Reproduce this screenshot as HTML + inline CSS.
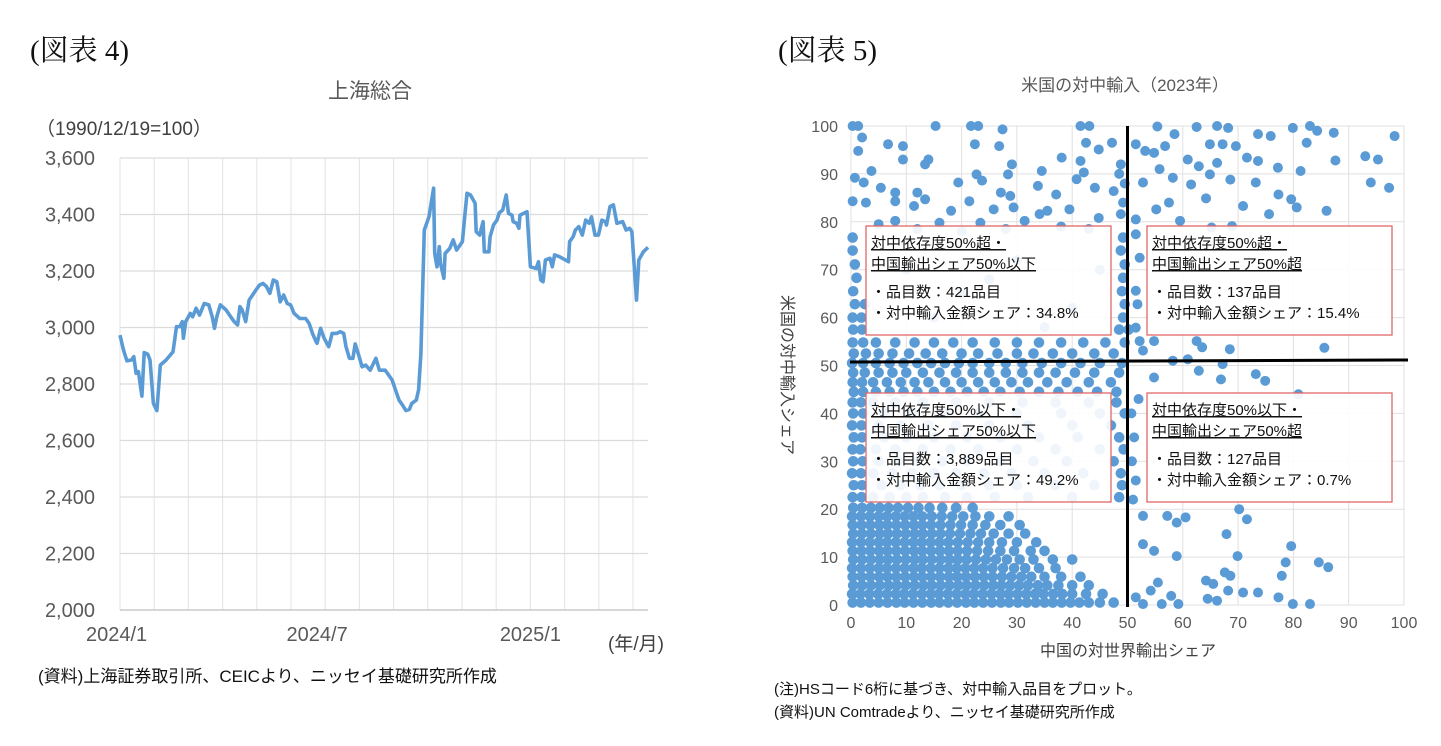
<!DOCTYPE html>
<html><head><meta charset="utf-8"><style>
html,body{margin:0;padding:0;background:#fff;width:1441px;height:746px;overflow:hidden}
svg{display:block}
text{font-family:"Liberation Sans","Noto Sans CJK JP",sans-serif}
.ser{font-family:"Liberation Serif","Noto Serif CJK SC",serif}
</style></head><body>
<svg id="root" width="1441" height="746" viewBox="0 0 1441 746" xmlns="http://www.w3.org/2000/svg">
<text class="ser" x="30" y="60" font-size="29" fill="#111">(図表 4)</text>
<text class="ser" x="778" y="60" font-size="29" fill="#111">(図表 5)</text>
<text x="370" y="98" font-size="21" fill="#595959" text-anchor="middle">上海総合</text>
<text x="36" y="135" font-size="19" fill="#404040">（1990/12/19=100）</text>
<text x="608" y="650" font-size="19" fill="#404040">(年/月)</text>
<text x="38" y="682" font-size="17" fill="#111">(資料)上海証券取引所、CEICより、ニッセイ基礎研究所作成</text>
<g id="left"></g>
<text x="1125" y="91" font-size="17" fill="#595959" text-anchor="middle">米国の対中輸入（2023年）</text>
<text x="1128" y="656" font-size="16" fill="#404040" text-anchor="middle">中国の対世界輸出シェア</text>
<text transform="translate(782,375) rotate(90)" font-size="16" fill="#404040" text-anchor="middle">米国の対中輸入シェア</text>
<text x="774" y="694" font-size="15" fill="#111">(注)HSコード6桁に基づき、対中輸入品目をプロット。</text>
<text x="774" y="717" font-size="15" fill="#111">(資料)UN Comtradeより、ニッセイ基礎研究所作成</text>
<g id="right"></g>
</svg>
<script>
// ---------- left chart data ----------
const days = [0,3,6,10,12,14,16,19,21,24,26,29,32,35,40,46,49,52,54,55,57,61,63,66,69,73,77,80,82,84,87,92,96,99,102,104,106,109,112,115,118,121,124,127,130,133,136,139,142,145,148,151,156,161,164,167,170,171,174,177,181,182,184,188,191,194,196,199,202,204,207,210,213,217,222,225,230,233,236,239,242,245,248,251,253,257,259,261,264,268,272,273,275,277,278,281,282,286,289,292,297,299,301,304,308,309,312,315,316,320,321,324,327,329,332,335,337,340,341,344,346,347,353,356,361,363,365,367,369,373,375,377,381,389,390,393,395,398,401,404,407,409,412,415,418,421,422,425,428,431,436,439,442,444,448,450,454,458];
const index = [2973,2920,2882,2885,2897,2838,2844,2757,2911,2906,2885,2731,2706,2867,2885,2914,3003,3003,3021,2962,3021,3050,3038,3068,3044,3085,3080,3038,2997,3038,3080,3062,3038,3021,3009,3074,3062,3021,3097,3115,3133,3150,3156,3145,3121,3168,3162,3091,3115,3085,3080,3050,3032,3032,3015,2979,2950,2944,2997,2962,2932,2946,2979,2979,2985,2979,2932,2891,2891,2942,2903,2861,2867,2849,2891,2849,2849,2832,2814,2779,2743,2726,2706,2710,2731,2743,2779,2908,3345,3392,3493,3262,3215,3286,3227,3174,3262,3280,3310,3274,3304,3392,3475,3469,3440,3339,3327,3375,3268,3268,3321,3363,3380,3406,3416,3469,3404,3398,3375,3369,3351,3398,3410,3215,3209,3233,3168,3162,3239,3245,3215,3257,3251,3233,3304,3321,3345,3357,3327,3380,3369,3392,3327,3327,3380,3375,3363,3428,3434,3369,3375,3345,3351,3339,3097,3239,3268,3284];
const yTicks = [2000,2200,2400,2600,2800,3000,3200,3400,3600];
const xTickLabels = ["2024/1","2024/7","2025/1"];
const xTickDays = [-3,171,356];

const NS="http://www.w3.org/2000/svg";
function mk(parent,tag,attrs){const e=document.createElementNS(NS,tag);for(const k in attrs)e.setAttribute(k,attrs[k]);parent.appendChild(e);return e;}

(function(){
  const g=document.getElementById('left');
  const L=120,R=648,T=158,B=610, dMax=458;
  const xs=d=>L+d*(R-L)/dMax, ys=v=>B-(v-2000)*(B-T)/1600;
  for(let k=0;k<=15;k++){
    const l=mk(g,'line',{x1:L+k*34.2,x2:L+k*34.2,y1:T,y2:B,stroke:'#e3e3e3','stroke-width':1});
    
    
  }
  yTicks.forEach(v=>{
    const l=mk(g,'line',{x1:L,x2:R,y1:ys(v),y2:ys(v),stroke:v===2000?'#bfbfbf':'#dcdcdc','stroke-width':1.2});
    
    
    const t=mk(g,'text',{x:95,y:ys(v)+7,'font-size':20,fill:'#595959','text-anchor':'end'});
    t.textContent=v.toLocaleString('en-US');
    
    
  });
  xTickLabels.forEach((s,i)=>{
    const t=mk(g,'text',{x:xs(xTickDays[i]),y:641,'font-size':20,fill:'#595959','text-anchor':'middle'});
    t.textContent=s;
    
    
  });
  const p=mk(g,'polyline',{points:days.map((d,i)=>xs(d).toFixed(1)+','+ys(index[i]).toFixed(1)).join(' '),fill:'none',stroke:'#5b9bd5','stroke-width':3.6,'stroke-linejoin':'round'});
  
  
})();

// ---------- right chart data ----------
const denseRows = [
 [0.5,[0.3,1.8,3.4,5,6.6,8.2,9.7,11.3,12.9,14.5,16,17.6,19.2,20.8,22.3,23.9,25.5,27.1,28.6,30.2,31.8,33.4,35,36.5,38.1,39.7,41.3,43,45,47.5]],
 [2.3,[0.2,1.7,3.3,4.9,6.5,8.1,9.6,11.2,12.8,14.4,15.9,17.5,19.1,20.7,22.2,23.8,25.4,27,28.5,30.1,31.7,33.3,34.8,36.6,38.2,40,42.5,45.5]],
 [4.1,[0.4,2,3.6,5.2,6.8,8.3,9.9,11.5,13.1,14.6,16.2,17.8,19.4,20.9,22.5,24.1,25.7,27.2,28.8,30.4,32,33.8,35.5,37.5,40,43]],
 [5.9,[0.3,1.9,3.5,5.1,6.6,8.2,9.8,11.4,12.9,14.5,16.1,17.7,19.2,20.8,22.4,24,25.6,27.3,29,30.8,32.6,35,38,41.5]],
 [7.7,[0.2,1.8,3.4,5,6.5,8.1,9.7,11.3,12.8,14.4,16,17.6,19.1,20.7,22.3,23.9,25.6,27.5,29.5,31.5,34,37]],
 [9.5,[0.4,2,3.6,5.2,6.7,8.3,9.9,11.5,13,14.6,16.2,17.8,19.3,20.9,22.6,24.4,26.2,28.2,30.5,33,36.5,40]],
 [11.3,[0.3,1.9,3.5,5.1,6.6,8.2,9.8,11.4,12.9,14.5,16.1,17.7,19.3,21,22.8,24.8,27,29.5,32.5,35]],
 [13.1,[0.2,1.8,3.4,5,6.5,8.1,9.7,11.3,12.8,14.4,16,17.6,19.3,21.1,23,25,27.3,30,33.5]],
 [14.9,[0.4,2,3.6,5.2,6.7,8.3,9.9,11.5,13,14.6,16.2,17.9,19.7,21.6,23.5,25.8,28.5,31.5]],
 [16.7,[0.3,1.9,3.5,5.1,6.6,8.2,9.8,11.4,12.9,14.5,16.2,18,19.9,22,24.3,27,30.5]],
 [18.5,[0.2,1.8,3.4,5,6.5,8.1,9.7,11.3,12.9,14.6,16.4,18.3,20.3,22.5,25,28.5]],
 [20.3,[0.4,2,3.6,5.2,6.8,8.5,10.3,12.2,14.2,16.5,19,22]],
 [22.5,[0.3,1.9,4,7,10,13,17,21,26,32,40,48.5]],
 [25,[0.5,2,5.5,9,12.5,16,20,25,30,37,44,49]],
 [27.5,[0.2,1.8,4,7.5,11,15,19,24,29,35,42,48.8]],
 [30,[0.4,2.1,5,8.5,12,16.5,21,27,33,39,47.5]],
 [32.5,[0.3,1.7,4.5,8,13,18,23,30,37,45,49.3]],
 [35,[0.5,2,6,10,15,21,27,34,41,48.5]],
 [37.5,[0.2,1.9,5,9,14,19,25,32,40,47]],
 [40,[0.4,2.2,6,11,17,23,30,38,45,49.5]],
 [42.3,[0.3,1.8,4,8,13,19,25,31,37,43,48]],
 [44.5,[0.5,2.2,4.5,7,9.5,12,15,18,21,24,27,30.5,34,37.5,41,44.5,48]],
 [46.5,[0.3,2,4,6.5,9,11.5,14,17,20,23,26,29,32,35.5,39,43,47]],
 [48.5,[0.4,2.5,5,7.5,10,13,16,19,22,25,28,31,34,37,40.5,44,48.5]],
 [50.5,[0.2,2.2,4.5,7,9.5,12,14.5,17,19.5,22,25,28,31,34.5,38,41.5,45,49]],
 [52.5,[0.5,2.7,5,7.5,10.5,13.5,16.5,20,23,26.5,30,33,36.5,40,44,47.5]],
 [54.8,[0.3,2.2,4.5,8,11.5,15,18.5,22,26,30,34,38,42,46,49.5]],
 [57.5,[0.4,2,48.5,50.2]],
 [60,[0.3,1.9,49.2]],
 [62.8,[0.7,2.5,49.5]],
 [65.5,[0.4,49]],
 [68.3,[1,49.2]],
 [71.1,[0.7,49.5]],
 [74,[0.3,48.8]],
 [76.7,[0.3,49.2]]
];
const scatter = [
 [55.4,99.9],[62.5,99.8],[66.2,100],[68.2,99.6],[79.9,99.6],[83,100],[84.3,99],[87.3,98.6],[98.3,97.9],[58.5,98.3],[73.6,98.3],[75.9,97.9],[82.4,96.5],[64.9,96.2],[67.2,96.2],[69.6,95.8],[51.5,96.2],[53.2,94.8],[54.8,94.4],[56.8,95.8],[60.9,93],[71.6,93.4],[73.6,92.7],[66.2,92.3],[77.2,91.3],[81.3,90.6],[87.6,92.8],[93,93.7],[95.3,93],[62.9,91.6],[64.9,89.9],[68.6,88.8],[55.8,91],[58.2,89.2],[52.8,88.2],[61.5,87.8],[73.2,88.2],[94,88.2],[97.3,87.1],[64.2,84.9],[70.9,83.3],[77.3,85.7],[79.6,84.7],[80.6,83],[55.2,82.6],[57.5,84],[75.6,81.6],[86,82.3],[51.5,80.5],[59.5,80.2],[65.2,78.8],[68.9,79.1],
 [85.6,53.7],[54.8,55.1],[62.5,55.1],[68.5,53.4],[63.5,53.8],[52.8,53.1],[54.8,47.5],[62.9,48.9],[66.9,47.1],[73.2,48.2],[74.9,46.8],[80.9,44],[58.2,51],[60.9,51.3],[52.2,55.1],[51.5,57.9],[51.8,62.8],[51.5,65.6],[52.2,72.5],[51.5,77.4],[67.2,50.3],
 [70.2,20],[71.6,17.9],[67.9,14.8],[60.5,18.3],[57.2,18.6],[58.9,17.2],[52.8,18.6],[52.8,12.7],[54.8,11.3],[58.9,10.2],[69.9,10.2],[79.6,12.3],[78.6,8.9],[84.6,8.9],[86.3,7.9],[67.6,6.8],[68.6,6.1],[64.2,5.1],[65.5,4.4],[77.9,6.1],[55.5,4.7],[54.2,3],[57.9,1.9],[64.5,1.3],[66.2,0.9],[68.2,3],[70.9,2.6],[73.6,2.6],[77.3,1.6],[79.9,0.2],[83,0.2],[52.8,0.2],[51.5,1.6],[56.2,0.2],[59.2,0.2],[51,22],[51.5,26],[50.8,30],[51.2,35],[50.7,40],[52,43],
 [0.3,100],[1.3,100],[15.3,100],[21.7,100],[23,100],[27.4,99.3],[41.5,100],[43.1,100],[2,97.6],[6.7,96.2],[9.4,95.8],[22.4,96.2],[26.8,95.8],[42.5,96.5],[44.8,95.1],[47.2,96.5],[1.3,94.8],[9.4,93],[14,93],[38.1,93.4],[41.5,92.7],[29.1,92],[3.7,90.6],[13.4,92],[34.5,90.6],[42.1,90.3],[48.8,92],[22.7,89.9],[28.4,89.9],[0.7,89.2],[2.3,88.2],[5.4,87.1],[8,86.1],[12,86.1],[19.4,88.2],[23.7,88.6],[27.1,86.1],[33.8,87.5],[40.8,88.9],[44.1,87.1],[47.5,86.4],[0.3,84.3],[2.7,84],[8,84.3],[13.4,84.7],[21.4,84.3],[28.8,85.4],[37.1,85.7],[11.4,83.3],[18.1,82.3],[25.8,82.6],[29.4,83],[35.5,82.3],[39.5,82.6],[44.8,80.8],[48.8,81.6],[8,80.2],[16,79.8],[23.4,79.8],[31.4,80.2],[34.1,81.6],[49.2,84],[49.5,88],[48.5,90],[5,79.5],[12,78.5],[20,78],[28,78.5],[38,79],[43,78.5],
 [10,70],[20,65],[30,72],[40,62],[15,60],[35,58],[25,68],[45,70]
];
const axisTicks = [0,10,20,30,40,50,60,70,80,90,100];

(function(){
  const g=document.getElementById('right');
  const L=851,R=1404,T=126,B=605;
  const xs=v=>L+v*(R-L)/100, ys=v=>B-v*(B-T)/100;
  axisTicks.forEach(v=>{
    const a=mk(g,'line',{x1:xs(v),x2:xs(v),y1:T,y2:B,stroke:'#e0e0e0','stroke-width':1});
    
    
    const b=mk(g,'line',{x1:L,x2:R,y1:ys(v),y2:ys(v),stroke:'#e0e0e0','stroke-width':1});
    
    
    const t=mk(g,'text',{x:838,y:ys(v)+6,'font-size':16,fill:'#595959','text-anchor':'end'});
    t.textContent=v;
    
    
    const u=mk(g,'text',{x:xs(v),y:628,'font-size':16,fill:'#595959','text-anchor':'middle'});
    u.textContent=v;
    
    
  });
  const pts=mk(g,'g',{fill:'#5b9bd5'});
  
  
  denseRows.forEach(r=>{r[1].forEach(x=>{
    const c=mk(pts,'circle',{cx:xs(x),cy:ys(r[0]),r:5.3});
    
    
  });});
  scatter.forEach(p=>{
    const c=mk(pts,'circle',{cx:xs(p[0]),cy:ys(p[1]),r:5});
    
    
  });
  const v=mk(g,'line',{x1:xs(50),x2:xs(50),y1:T,y2:B+2,stroke:'#000','stroke-width':3});
  
  
  const h=mk(g,'line',{x1:850,x2:1408,y1:362,y2:360,stroke:'#000','stroke-width':3});
  
  
  const boxes=[
    [866,226,'対中依存度50%超・','中国輸出シェア50%以下','・品目数：421品目','・対中輸入金額シェア：34.8%','box-high-dependence-low-share'],
    [1147,226,'対中依存度50%超・','中国輸出シェア50%超','・品目数：137品目','・対中輸入金額シェア：15.4%','box-high-dependence-high-share'],
    [866,393,'対中依存度50%以下・','中国輸出シェア50%以下','・品目数：3,889品目','・対中輸入金額シェア：49.2%','box-low-dependence-low-share'],
    [1147,393,'対中依存度50%以下・','中国輸出シェア50%超','・品目数：127品目','・対中輸入金額シェア：0.7%','box-low-dependence-high-share']
  ];
  boxes.forEach(b=>{
    const bg=mk(g,'g',{});
    
    
    mk(bg,'rect',{x:b[0],y:b[1],width:245,height:109,fill:'#fff','fill-opacity':0.9,stroke:'#e06666','stroke-width':1.3});
    [[b[2],22,true],[b[3],43,true],[b[4],71,false],[b[5],92,false]].forEach(l=>{
      const t=mk(bg,'text',{x:b[0]+5,y:b[1]+l[1],'font-size':15,fill:'#111','text-decoration':l[2]?'underline':'none'});
      t.textContent=l[0];
    });
  });
})();
</script>
</body></html>
